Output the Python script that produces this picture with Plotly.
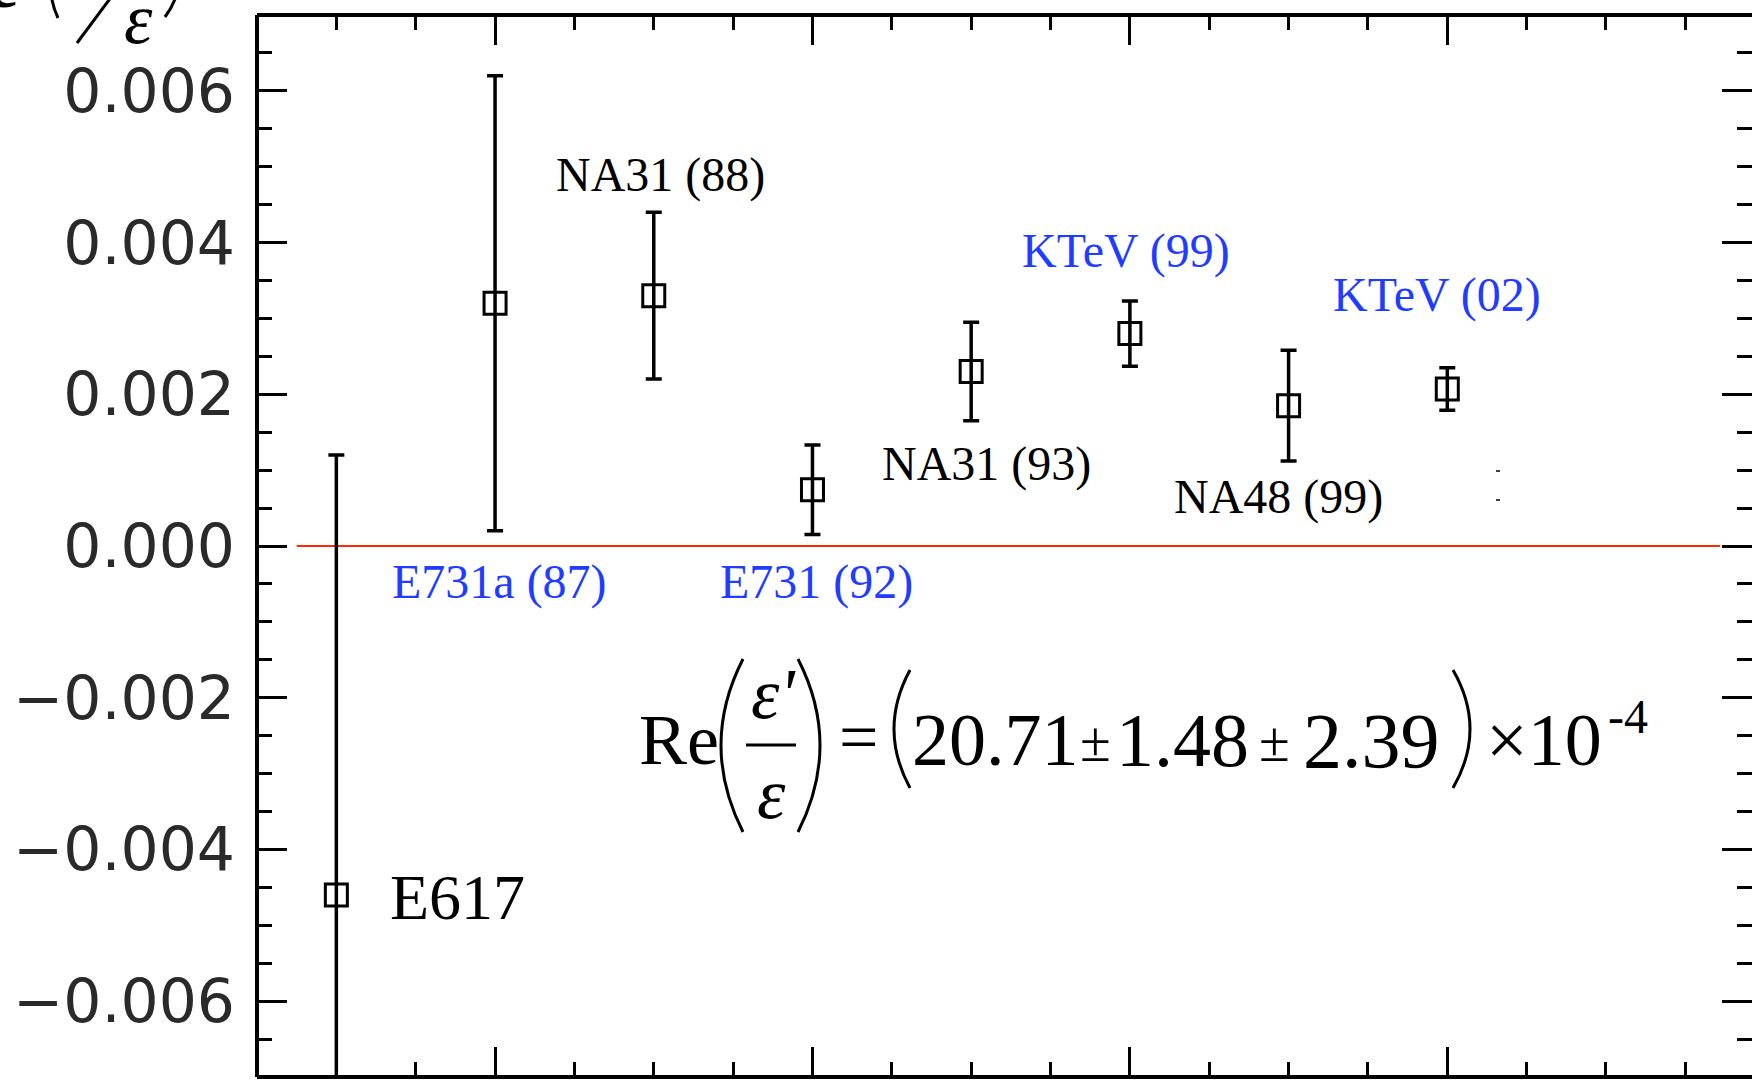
import plotly.graph_objects as go

# ---------------- data ----------------
experiments = ["E617", "E731a (87)", "NA31 (88)", "E731 (92)", "NA31 (93)",
               "KTeV (99)", "NA48 (99)", "KTeV (02)"]
x_index = [1, 2, 3, 4, 5, 6, 7, 8]
re_eps = [-0.0046, 0.0032, 0.0033, 0.00074, 0.0023, 0.0028, 0.00185, 0.00207]
re_eps_err = [0.0058, 0.0030, 0.0011, 0.00059, 0.00065, 0.00043, 0.00073, 0.00028]
label_is_blue = [False, True, False, True, False, True, False, True]
y_tick_vals = [-0.006, -0.004, -0.002, 0.0, 0.002, 0.004, 0.006]
y_tick_text = ["\u22120.006", "\u22120.004", "\u22120.002", "0.000", "0.002", "0.004", "0.006"]
zero_line_x = [0.75, 9.72]

# ---------------- layout helpers (pixel -> paper) ----------------
W, H = 1752, 1080
L, R, T, B = 257, 1752, 15, 1077


def px(x):
    return (x - L) / (R - L)


def py(y):
    return (B - y) / (B - T)


BLUE = "#1f3cff"
SERIF = "Liberation Serif"

fig = go.Figure()
fig.add_trace(go.Scatter(
    x=x_index, y=re_eps, mode="markers",
    marker=dict(symbol="square-open", size=22, color="black",
                line=dict(width=3, color="black")),
    error_y=dict(type="data", array=re_eps_err, visible=True,
                 color="black", thickness=3.5, width=8),
    showlegend=False, hoverinfo="skip",
))

shapes = []
# zero reference line
shapes.append(dict(type="line", xref="x", yref="y", x0=zero_line_x[0], x1=zero_line_x[1],
                   y0=0, y1=0, line=dict(color="#ff2a00", width=2), layer="below"))
# frame lines (left, top, bottom); right side is cut off in the reference
for (x0, y0, x1, y1) in [(0, 0, 0, 1), (0, 1, 1, 1), (0, 0, 1, 0)]:
    shapes.append(dict(type="line", xref="paper", yref="paper", x0=x0, y0=y0, x1=x1, y1=y1,
                       line=dict(color="black", width=4)))


def paren(xt, yt, xc, yc, xb, yb, w=3):
    return dict(type="path", xref="paper", yref="paper",
                path=f"M {px(xt)},{py(yt)} Q {px(xc)},{py(yc)} {px(xb)},{py(yb)}",
                line=dict(color="black", width=w))


# formula parentheses
shapes.append(paren(743, 659, 699, 745, 743, 832))
shapes.append(paren(798, 659, 842, 745, 798, 832))
shapes.append(paren(910, 670, 878, 729, 910, 788))
shapes.append(paren(1453, 670, 1487, 729, 1453, 788))
# fraction bar
shapes.append(dict(type="line", xref="paper", yref="paper", x0=px(746), x1=px(796),
                   y0=py(745), y1=py(745), line=dict(color="black", width=3)))
# cropped axis title pieces
shapes.append(paren(72, -70, 38, -25, 58, 18))
shapes.append(paren(158, -70, 196, -25, 165, 17))
shapes.append(dict(type="line", xref="paper", yref="paper", x0=px(77), y0=py(43),
                   x1=px(135), y1=py(-35), line=dict(color="black", width=3)))
# tiny stray marks
for yy in (471, 500):
    shapes.append(dict(type="line", xref="paper", yref="paper", x0=px(1496), x1=px(1500),
                       y0=py(yy), y1=py(yy), line=dict(color="black", width=1.5)))

annotations = []
# experiment labels (left edge px, vertical centre px, font size)
label_pos = [(388, 897, 64), (390, 582, 48), (554, 175, 48), (718, 582, 48),
             (880, 464, 48), (1020, 251, 48), (1172, 497, 48), (1331, 295, 48)]
for name, blue, (lx, ly, fs) in zip(experiments, label_is_blue, label_pos):
    annotations.append(dict(text=name, xref="paper", yref="paper", x=px(lx), y=py(ly),
                            xanchor="left", yanchor="middle", showarrow=False,
                            font=dict(family=SERIF, size=fs, color=BLUE if blue else "black")))


def txt(s, x, y, size, xanchor="center", italic=False, bold=False):
    return dict(text=s, xref="paper", yref="paper", x=px(x), y=py(y), xanchor=xanchor,
                yanchor="middle", showarrow=False,
                font=dict(family=SERIF, size=size, color="black",
                          style="italic" if italic else "normal",
                          weight="bold" if bold else "normal"))


# formula Re(eps'/eps) = (20.71 ± 1.48 ± 2.39) x 10^-4
annotations += [
    txt("Re", 637, 740, 72, xanchor="left"),
    txt("\u03b5'", 773, 694, 72, italic=True),
    txt("\u03b5", 771, 794, 72, italic=True),
    txt("=", 858, 737, 70),
    txt("20.71", 995, 740, 74),
    txt("\u00b1", 1095, 742, 56),
    txt("1.48", 1182, 740, 76),
    txt("\u00b1", 1274, 742, 56),
    txt("2.39", 1371, 740, 78),
    txt("\u00d710", 1484, 740, 74, xanchor="left"),
    txt("-4", 1606, 716, 48, xanchor="left"),
    # cropped y-axis title at the top-left
    txt("Re", 20, -17, 72, xanchor="right", bold=True),
    txt("\u03b5", 138, 19, 72, italic=True),
]

axis_common = dict(showgrid=False, zeroline=False, showline=False, mirror="ticks",
                   ticks="inside", ticklen=30, tickwidth=3, tickcolor="black")

fig.update_layout(
    width=W, height=H,
    margin=dict(l=L, r=W - R, t=T, b=H - B, pad=0),
    paper_bgcolor="white", plot_bgcolor="white",
    showlegend=False,
    xaxis=dict(range=[0.5, 9.92], tickmode="linear", tick0=0, dtick=2,
               showticklabels=False,
               minor=dict(tickmode="linear", tick0=0, dtick=0.5, ticks="inside",
                          ticklen=15, tickwidth=3, tickcolor="black"),
               **axis_common),
    yaxis=dict(range=[-0.007, 0.007], tickmode="array", tickvals=y_tick_vals,
               ticktext=y_tick_text, ticklabelstandoff=21,
               tickfont=dict(family="DejaVu Sans", size=60, color="#2a2a2a"),
               minor=dict(tickmode="linear", tick0=0, dtick=0.0005, ticks="inside",
                          ticklen=15, tickwidth=3, tickcolor="black"),
               **axis_common),
    shapes=shapes,
    annotations=annotations,
)

fig.write_html("out.html", config={"displayModeBar": False},
               post_script="document.body.style.margin='0';document.body.style.overflow='hidden';")
